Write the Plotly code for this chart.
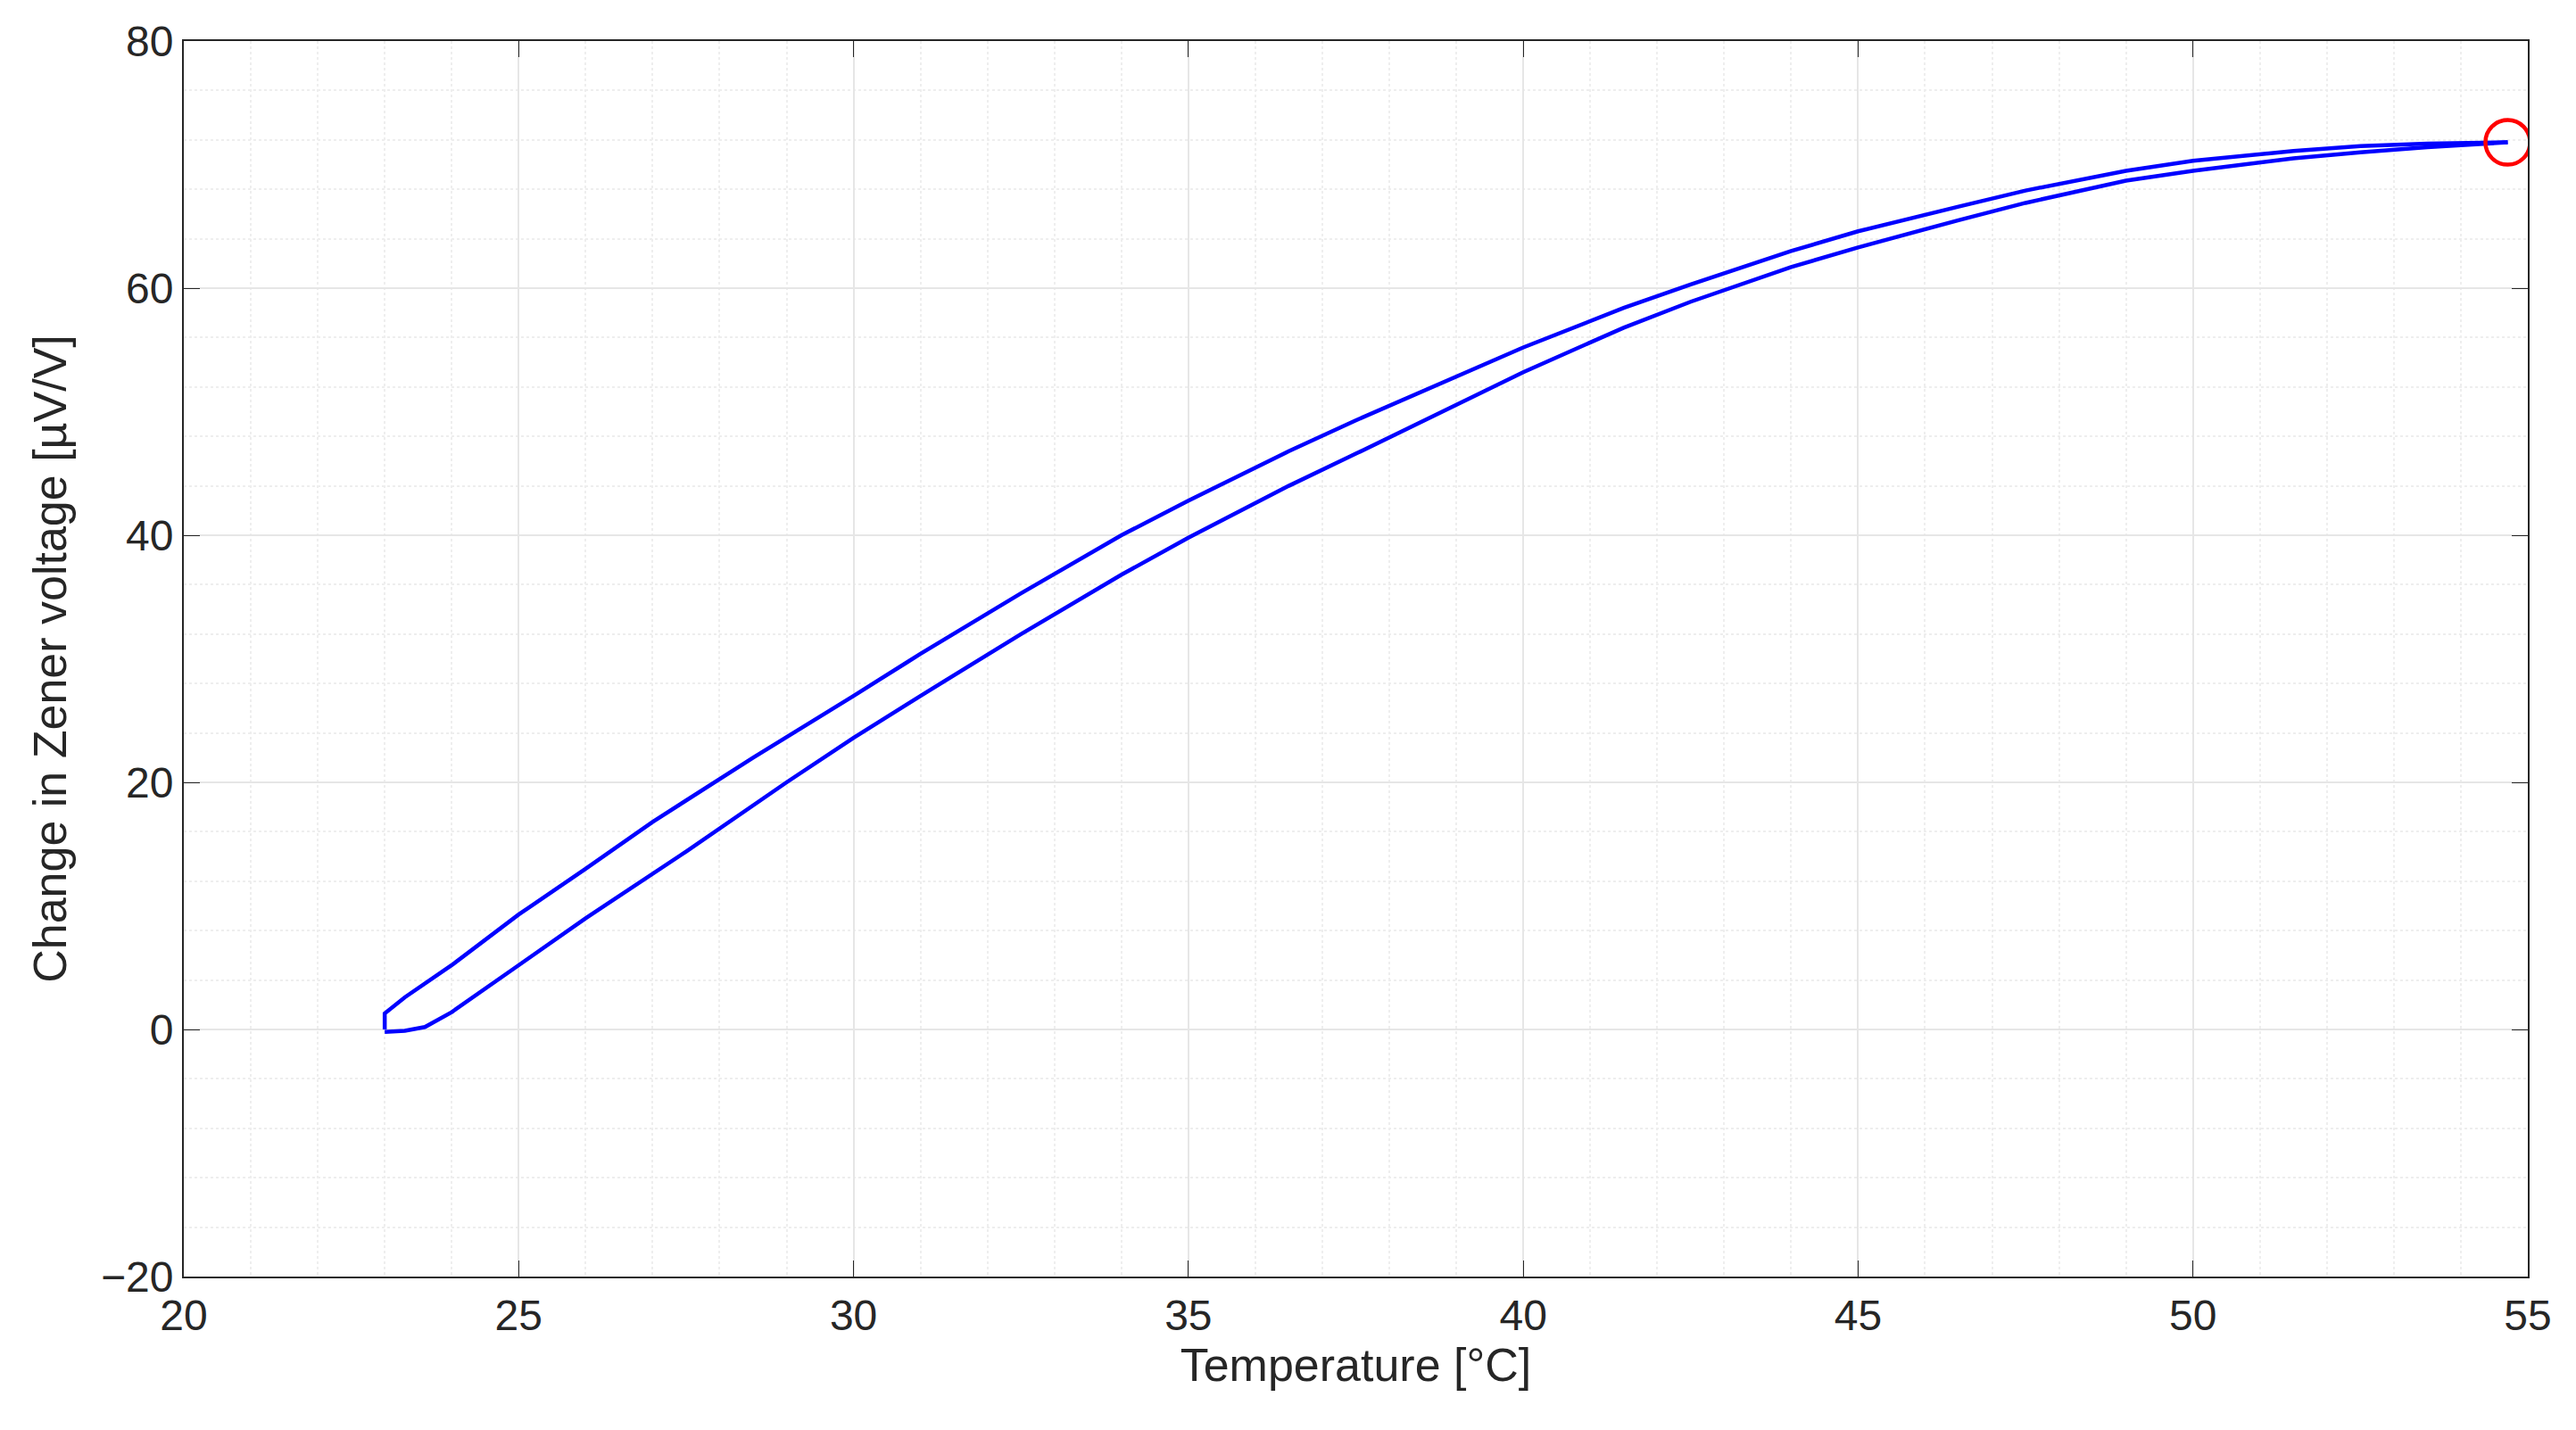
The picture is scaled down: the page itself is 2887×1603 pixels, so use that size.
import plotly.graph_objects as go

# upper branch of the loop
up_t = [23.0, 23.0, 23.3, 24.0, 25.0, 26.0, 27.0, 28.5, 30.0, 31.0, 32.5, 34.0, 35.0, 36.5, 37.5, 39.0, 40.0,
        41.5, 42.5, 44.0, 45.0, 46.5, 47.5, 49.0, 50.0, 51.5, 52.5, 53.5, 54.7]
up_v = [0.0, 1.3, 2.6, 5.2, 9.3, 13.0, 16.8, 22.0, 27.0, 30.4, 35.3, 40.0, 42.8, 46.8, 49.3, 52.8, 55.2,
        58.4, 60.3, 63.0, 64.6, 66.6, 67.9, 69.5, 70.3, 71.1, 71.5, 71.7, 71.8]
# lower branch
lo_t = [23.0, 23.3, 23.6, 24.0, 25.0, 26.0, 27.5, 29.0, 30.0, 31.0, 32.5, 34.0, 35.0, 36.5, 37.5, 39.0, 40.0,
        41.5, 42.5, 44.0, 45.0, 46.5, 47.5, 49.0, 50.0, 51.5, 52.5, 53.5, 54.7]
lo_v = [-0.2, -0.1, 0.2, 1.4, 5.2, 9.0, 14.4, 20.0, 23.6, 27.0, 32.0, 36.8, 39.8, 44.0, 46.6, 50.6, 53.2,
        56.8, 58.9, 61.7, 63.3, 65.5, 66.9, 68.7, 69.5, 70.5, 71.0, 71.4, 71.8]
end_t = [54.7]
end_v = [71.8]

fig = go.Figure()
fig.add_trace(go.Scatter(x=up_t, y=up_v, mode="lines", line=dict(color="#0000ff", width=4.5)))
fig.add_trace(go.Scatter(x=lo_t, y=lo_v, mode="lines", line=dict(color="#0000ff", width=4.5)))
fig.add_trace(go.Scatter(x=end_t, y=end_v, mode="markers",
                         marker=dict(symbol="circle-open", size=50, color="#ff0000", line=dict(width=4.5))))

font = dict(family="Liberation Sans, Arial, sans-serif", size=48, color="#262626")
axis = dict(showline=True, linecolor="#262626", linewidth=2, mirror="ticks", ticks="inside", ticklen=18,
            tickcolor="#262626", showgrid=True, gridcolor="#e6e6e6", gridwidth=1.5, zeroline=False,
            tickfont=font, title_font=dict(family=font["family"], size=52, color="#262626"))
fig.update_layout(width=2887, height=1603, plot_bgcolor="white", paper_bgcolor="white", showlegend=False,
                  margin=dict(l=198, r=62, t=33, b=180), font=font)
fig.update_xaxes(axis, range=[20, 55], dtick=5, title_text="Temperature [°C]", title_standoff=8,
                 minor=dict(dtick=1, showgrid=True, gridcolor="#eeeeee", griddash="dot", ticks=""))
fig.update_yaxes(axis, range=[-20, 80], dtick=20, title_text="Change in Zener voltage [µV/V]", title_standoff=22,
                 minor=dict(dtick=4, showgrid=True, gridcolor="#eeeeee", griddash="dot", ticks=""))
fig.write_html("out.html")
